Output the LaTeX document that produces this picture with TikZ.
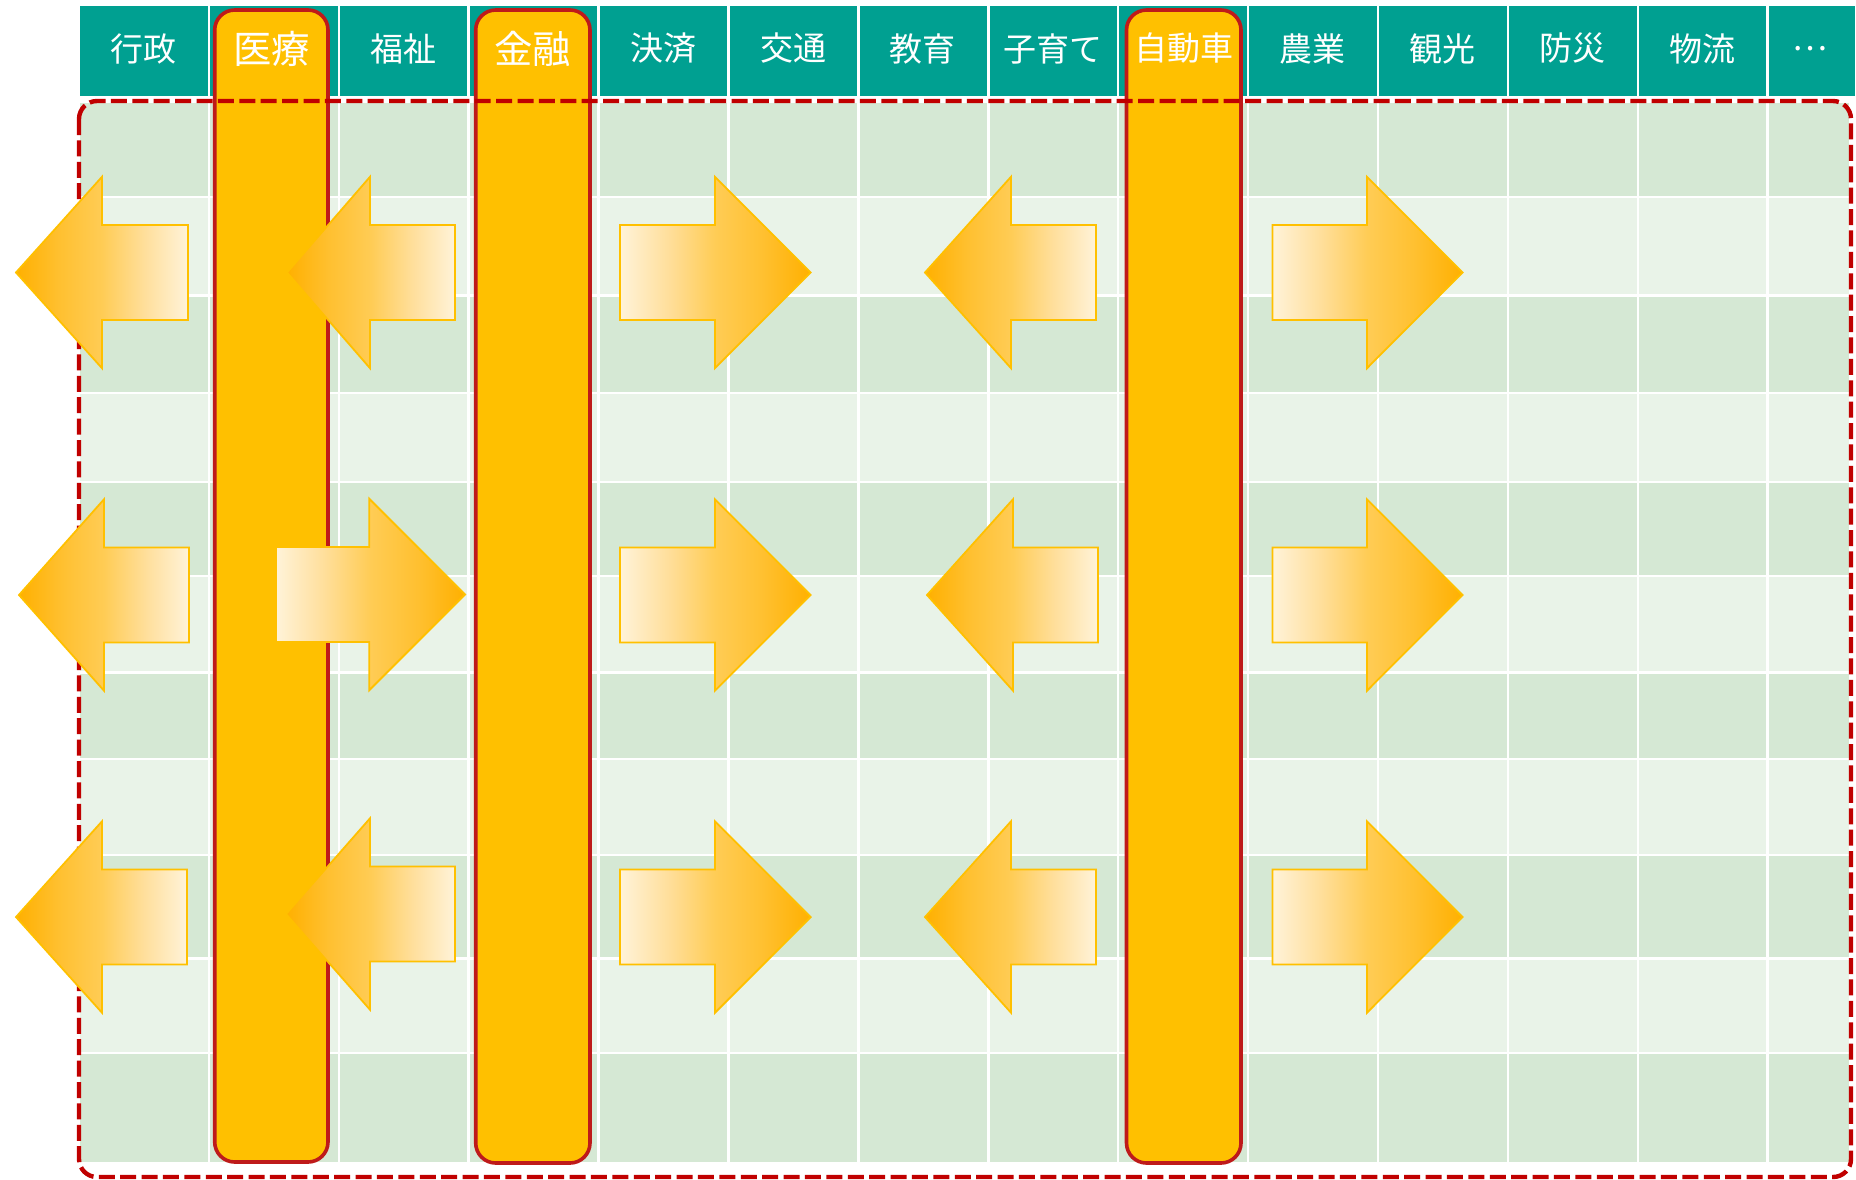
\documentclass[tikz,border=0pt]{standalone}
\usepackage{fontspec}
\newfontfamily\jpfont{Noto Sans CJK JP}
\definecolor{hdrteal}{HTML}{00A091}
\definecolor{rowdark}{HTML}{D5E8D4}
\definecolor{rowlight}{HTML}{E9F3E8}
\definecolor{barfill}{HTML}{FFC000}
\definecolor{barline}{HTML}{BE1A1A}
\definecolor{dashred}{HTML}{C00000}
\definecolor{arrowedge}{HTML}{FFC000}
\definecolor{ac1}{HTML}{FFF3D9}
\definecolor{ac2}{HTML}{FFDF9C}
\definecolor{ac3}{HTML}{FFCC55}
\definecolor{ac4}{HTML}{FFC030}
\definecolor{ac5}{HTML}{FFB000}
\pgfdeclarehorizontalshading{shR}{100bp}{color(0bp)=(ac1); color(25bp)=(ac1); color(37.5bp)=(ac2); color(50bp)=(ac3); color(62.5bp)=(ac4); color(75bp)=(ac5); color(100bp)=(ac5)}
\pgfdeclarehorizontalshading{shL}{100bp}{color(0bp)=(ac5); color(25bp)=(ac5); color(37.5bp)=(ac4); color(50bp)=(ac3); color(62.5bp)=(ac2); color(75bp)=(ac1); color(100bp)=(ac1)}
\tikzset{
  hdr/.style={text=white, font=\jpfont\fontsize{16.5}{18}\selectfont, inner sep=0pt, anchor=center},
  hdrbig/.style={hdr, font=\jpfont\fontsize{19.2}{21}\selectfont},
  barbox/.style={fill=barfill, draw=barline, line width=1.8pt, rounded corners=10pt},
  dashbox/.style={draw=dashred, line width=2.2pt, dash pattern=on 8pt off 2.7pt, rounded corners=9pt},
  arrLsty/.style={shade, shading=shL, draw=arrowedge, line width=0.9pt, line join=miter},
  arrRsty/.style={shade, shading=shR, draw=arrowedge, line width=0.9pt, line join=miter},
  gridline/.style={white, line width=1.25pt}
}
\newcommand\arrL[4]{\path[arrLsty] (#1,#4) -- (#2,#4-95.7) -- (#2,#4-47.5) -- (#3,#4-47.5) -- (#3,#4+47.5) -- (#2,#4+47.5) -- (#2,#4+95.7) -- cycle;}
\newcommand\arrR[4]{\path[arrRsty] (#3,#4) -- (#2,#4-95.7) -- (#2,#4-47.5) -- (#1,#4-47.5) -- (#1,#4+47.5) -- (#2,#4+47.5) -- (#2,#4+95.7) -- cycle;}
\begin{document}
\begin{tikzpicture}[x=0.5pt,y=-0.5pt]
\useasboundingbox (0,0) rectangle (1856,1179);
% header band
\fill[hdrteal] (80,6) rectangle (1855,96);
\foreach \i in {1,...,13}
  \draw[gridline] ({80+129.9*\i-1},6) -- ({80+129.9*\i-1},96);
% grid rows
\foreach \a/\b/\c in {103/197/rowdark, 197/295.5/rowlight, 295.5/393/rowdark, 393/482/rowlight,
  482/576/rowdark, 576/672.5/rowlight, 672.5/759/rowdark, 759/855/rowlight,
  855/958.5/rowdark, 958.5/1053/rowlight, 1053/1162/rowdark}
  \fill[\c] (80,\a) rectangle (1849,\b);
\foreach \y in {197,295.5,393,482,576,672.5,759,855,958.5,1053}
  \draw[gridline] (80,\y) -- (1849,\y);
\foreach \i in {1,...,13}
  \draw[gridline] ({80+129.9*\i-1},103) -- ({80+129.9*\i-1},1162);
% highlighted columns
\draw[barbox] (214.7,10) rectangle (328,1162);
\draw[barbox] (475.7,10) rectangle (590,1163);
\draw[barbox] (1126.5,10) rectangle (1241,1163);
% header labels
\node[hdr] (h0) at (143.5,48.5) {行政};
\node[hdrbig] (h1) at (271.4,49) {医療};
\node[hdr] (h2) at (403.3,48.5) {福祉};
\node[hdrbig] (h3) at (532.9,49) {金融};
\node[hdr] (h4) at (663.1,48.5) {決済};
\node[hdr] (h5) at (793.0,48.5) {交通};
\node[hdr] (h6) at (922.9,48.5) {教育};
\node[hdr] (h7) at (1052.8,48.5) {子育て};
\node[hdr] (h8) at (1183.7,48.5) {自動車};
\node[hdr] (h9) at (1312.6,48.5) {農業};
\node[hdr] (h10) at (1442.5,48.5) {観光};
\node[hdr] (h11) at (1572.4,48.5) {防災};
\node[hdr] (h12) at (1702.3,48.5) {物流};
\node[hdr] (h13) at (1810,48.5) {…};
% dashed frame
\draw[dashbox] (79,101) rectangle (1851,1177);
% arrows row 1
\arrL{16}{102}{188}{272.5}
\arrL{287}{370}{455}{272.5}
\arrR{620}{715}{810.7}{272.5}
\arrL{925}{1011}{1096}{272.5}
\arrR{1272.5}{1367}{1462.5}{272.5}
% arrows row 2
\arrL{19}{104}{189}{595}
\arrR{276}{369.3}{465}{594.5}
\arrR{620}{715}{810.7}{595}
\arrL{927}{1013}{1098}{595}
\arrR{1272.5}{1367}{1462.5}{595}
% arrows row 3
\arrL{16}{102}{187}{917}
\arrL{286}{370}{455}{914}
\arrR{620}{715}{810.7}{917}
\arrL{925}{1011}{1096}{917}
\arrR{1272.5}{1367}{1462.5}{917}
\end{tikzpicture}
\end{document}
